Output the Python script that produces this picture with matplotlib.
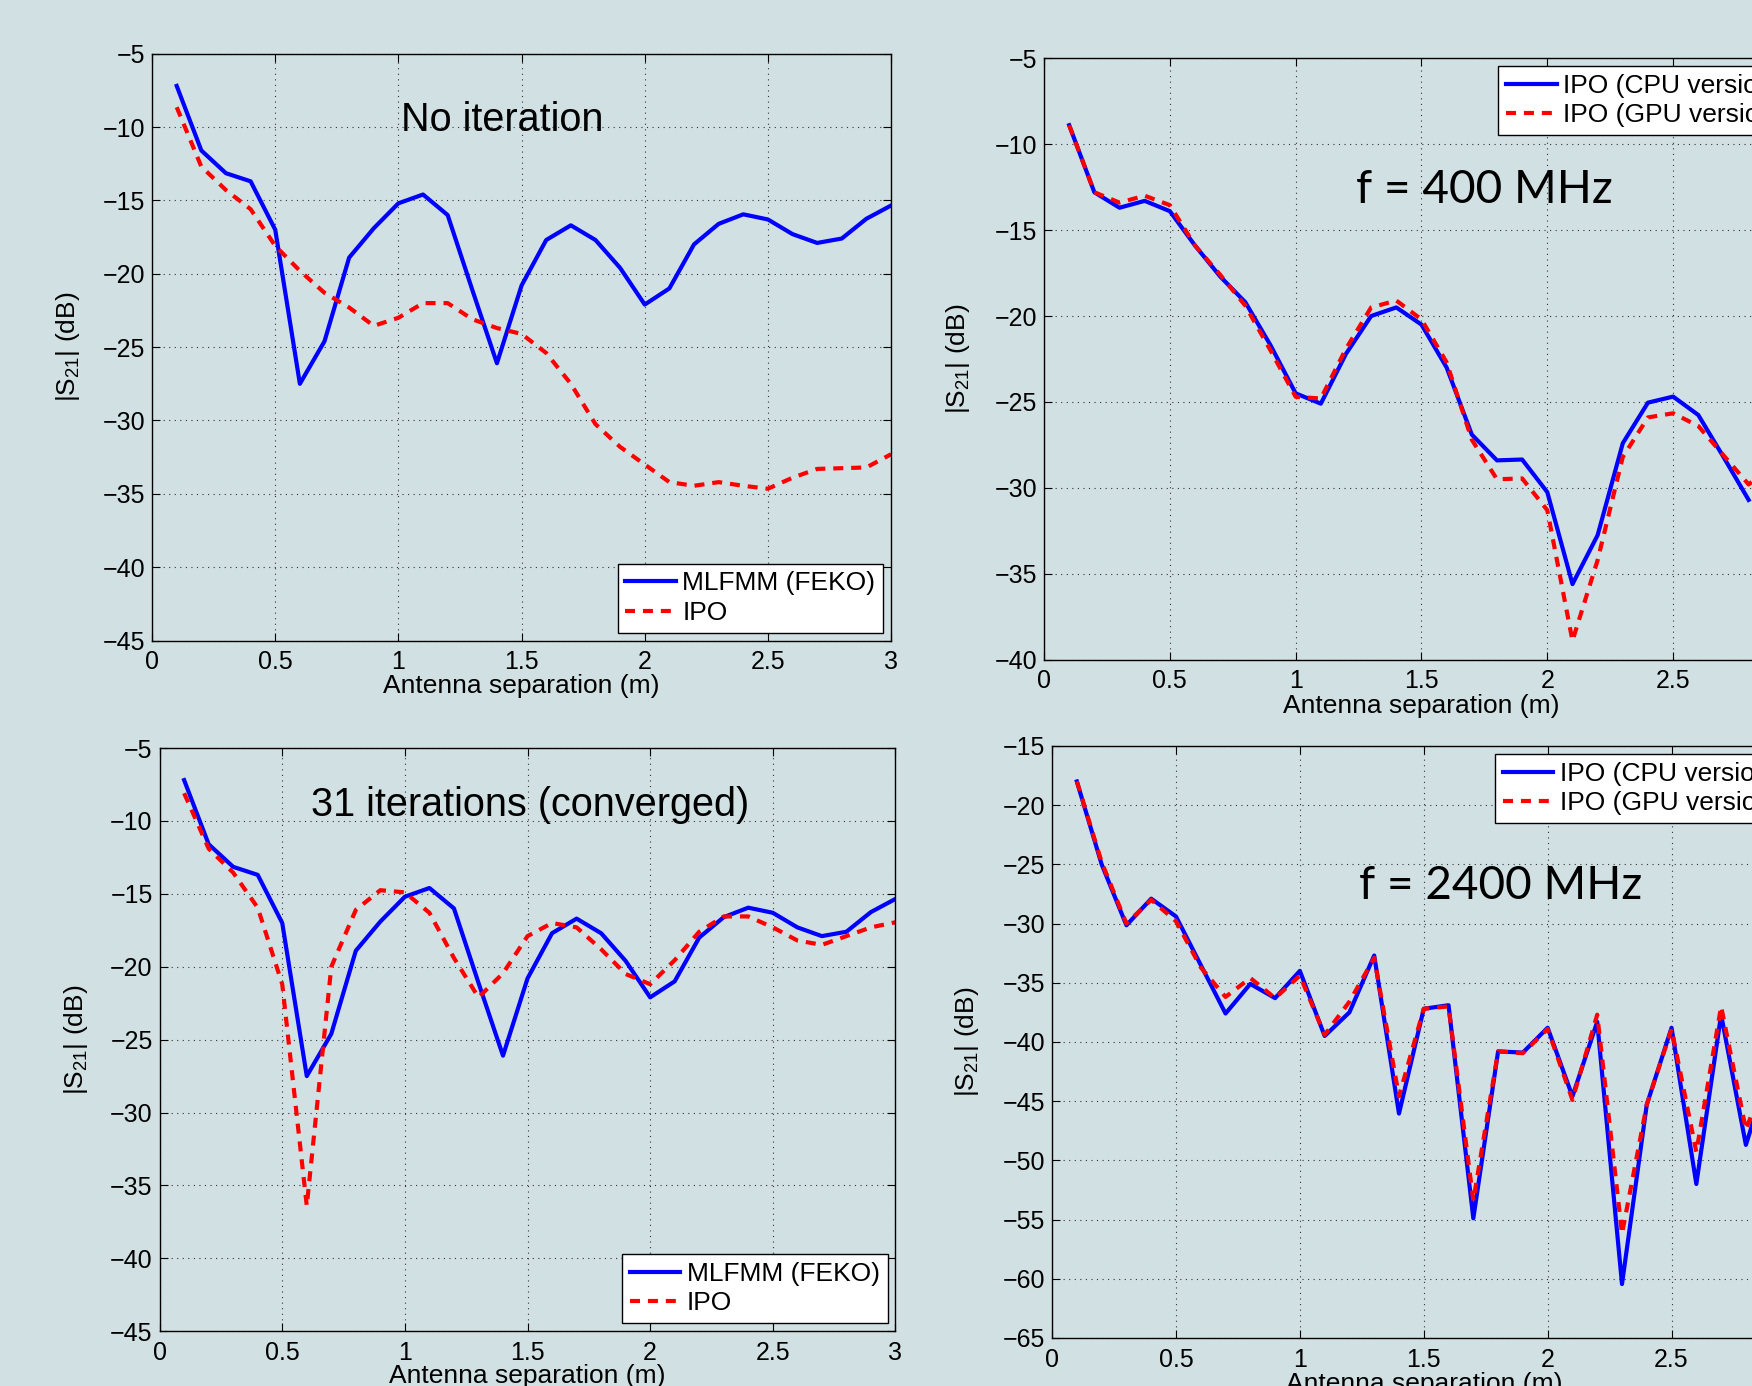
import numpy as np
import matplotlib.pyplot as plt

plt.rcParams['font.family'] = ['Liberation Sans', 'DejaVu Sans']
plt.rcParams['mathtext.default'] = 'regular'

BG = '#d1e1e3'

# antenna separation (m)
sep = [0.1, 0.2, 0.3, 0.4, 0.5, 0.6, 0.7, 0.8, 0.9, 1.0,
       1.1, 1.2, 1.3, 1.4, 1.5, 1.6, 1.7, 1.8, 1.9, 2.0,
       2.1, 2.2, 2.3, 2.4, 2.5, 2.6, 2.7, 2.8, 2.9, 3.0]

# |S21| (dB), left column
mlfmm = [-7.2, -11.6, -13.15, -13.7, -17.0, -27.5, -24.6, -18.9, -16.9, -15.2,
         -14.6, -16.0, -21.1, -26.1, -20.8, -17.7, -16.7, -17.7, -19.6, -22.1,
         -21.0, -18.0, -16.6, -15.95, -16.3, -17.3, -17.9, -17.6, -16.25, -15.35]
ipo_noiter = [-8.65, -12.7, -14.3, -15.6, -18.1, -19.8, -21.3, -22.3, -23.55, -23.0,
              -22.0, -22.0, -23.1, -23.7, -24.1, -25.4, -27.5, -30.25, -31.8, -33.0,
              -34.2, -34.45, -34.2, -34.45, -34.65, -33.9, -33.3, -33.25, -33.2, -32.3]
ipo_conv = [-8.1, -11.9, -13.55, -15.95, -21.2, -36.4, -20.0, -16.1, -14.75, -14.9,
            -16.3, -19.4, -22.1, -20.45, -17.9, -17.0, -17.3, -18.8, -20.5, -21.2,
            -19.55, -17.6, -16.55, -16.55, -17.3, -18.2, -18.5, -17.9, -17.3, -16.95]

# |S21| (dB), right column (only what is visible)
cpu_400 = [-8.9, -12.8, -13.7, -13.3, -13.9, -15.9, -17.7, -19.2, -21.7, -24.5,
           -25.1, -22.2, -20.0, -19.5, -20.5, -23.0, -26.9, -28.4, -28.35, -30.25,
           -35.6, -32.75, -27.4, -25.04, -24.69, -25.76, -28.2, -30.7]
gpu_400 = [-8.9, -12.8, -13.4, -13.0, -13.55, -15.9, -17.6, -19.4, -22.0, -24.7,
           -24.8, -21.9, -19.5, -19.1, -20.2, -22.7, -27.2, -29.5, -29.45, -31.3,
           -38.9, -34.2, -28.2, -25.9, -25.66, -26.4, -28.1, -29.8, -28.6]
cpu_2400 = [-18.0, -25.0, -30.15, -27.9, -29.4, -33.5, -37.6, -35.1, -36.3, -34.0,
            -39.5, -37.5, -32.7, -46.05, -37.2, -36.9, -54.9, -40.8, -40.9, -38.8,
            -44.6, -38.3, -60.45, -45.3, -38.8, -52.0, -37.7, -48.7, -42.0]
gpu_2400 = [-18.0, -24.8, -30.0, -28.0, -29.8, -33.7, -36.2, -34.6, -36.3, -34.4,
            -39.4, -36.6, -32.9, -44.6, -37.2, -37.0, -53.4, -40.8, -40.95, -38.9,
            -44.9, -37.7, -56.2, -45.3, -38.9, -49.3, -37.0, -47.4, -42.0]

xticks = [0, 0.5, 1, 1.5, 2, 2.5, 3]
xticklabels = ['0', '0.5', '1', '1.5', '2', '2.5', '3']

fig = plt.figure(figsize=(17.52, 13.86), dpi=100, facecolor=BG)

panels = [
    # rect, series, legend labels, ylim, annotation
    ([0.0868, 0.5378, 0.4218, 0.4235], mlfmm, ipo_noiter,
     ['MLFMM (FEKO)', 'IPO'], (-45, -5), 'No iteration', (1.42, -9.5), 'lower right'),
    ([0.5959, 0.5240, 0.4309, 0.4340], cpu_400, gpu_400,
     ['IPO (CPU version)', 'IPO (GPU version)'], (-40, -5), 'f = 400 MHz', (1.75, -12.66), 'upper right'),
    ([0.0911, 0.0395, 0.4200, 0.4208], mlfmm, ipo_conv,
     ['MLFMM (FEKO)', 'IPO'], (-45, -5), '31 iterations (converged)', (1.51, -8.94), 'lower right'),
    ([0.6005, 0.0347, 0.4243, 0.4271], cpu_2400, gpu_2400,
     ['IPO (CPU version)', 'IPO (GPU version)'], (-65, -15), 'f = 2400 MHz', (1.81, -26.8), 'upper right'),
]

for rect, s_blue, s_red, labels, ylim, note, note_xy, legloc in panels:
    ax = fig.add_axes(rect)
    ax.set_facecolor(BG)
    ax.plot(sep[:len(s_blue)], s_blue, color='#0000ff', lw=3, label=labels[0])
    ax.plot(sep[:len(s_red)], s_red, color='#ff0000', lw=3, dashes=(2.4, 1.9), label=labels[1])
    ax.set_xlim(0, 3)
    ax.set_ylim(*ylim)
    ax.set_xticks(xticks)
    ax.set_xticklabels(xticklabels)
    ax.set_yticks(np.arange(ylim[0], ylim[1] + 1, 5))
    ax.tick_params(direction='in', length=6, width=0.8, labelsize=18,
                   top=True, right=True)
    ax.tick_params(axis='y', pad=5)
    ax.tick_params(axis='x', pad=7)
    ax.grid(True, color='#333333', linestyle=(0, (1, 4)), lw=0.8)
    for sp in ax.spines.values():
        sp.set_linewidth(1.0)
    ax.set_xlabel('Antenna separation (m)', fontsize=19)
    ax.set_ylabel('|S$_{21}$| (dB)', fontsize=19)
    ax.xaxis.set_label_coords(0.5, -0.057)
    ax.yaxis.set_label_coords(-0.095, 0.5)

    if note.startswith('f ='):
        ax.text(note_xy[0], note_xy[1], note, fontsize=33, family='Lato',
                ha='center', va='center')
    else:
        ax.text(note_xy[0], note_xy[1], note, fontsize=28.5,
                ha='center', va='center')

    leg = ax.legend(loc=legloc, fontsize=19, handlelength=1.9, handletextpad=0.25,
                    borderpad=0.3, labelspacing=0.2, borderaxespad=0.3,
                    fancybox=False, framealpha=1, edgecolor='black')
    leg.get_frame().set_linewidth(1.0)

fig.savefig('out.png', dpi=100, facecolor=BG)
